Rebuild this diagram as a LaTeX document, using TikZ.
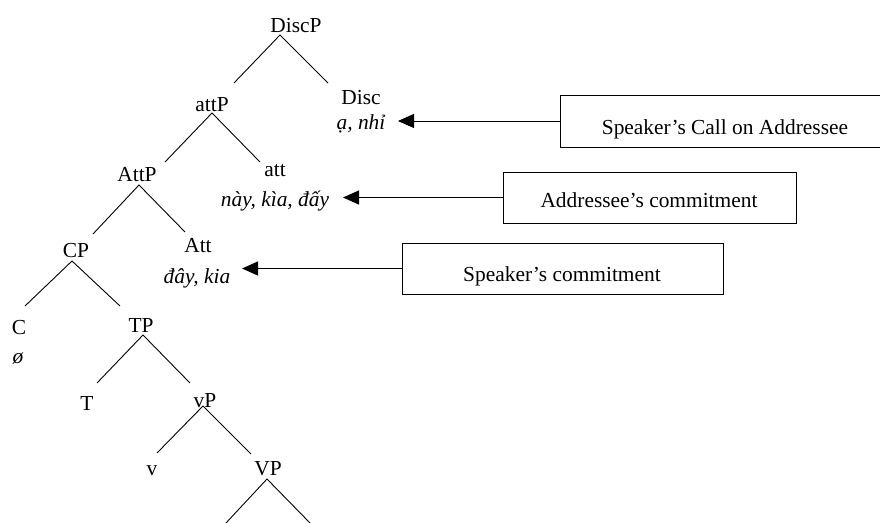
\documentclass[tikz,border=0pt]{standalone}
\usepackage{fontspec}
\setmainfont{Liberation Serif}
\usetikzlibrary{arrows.meta}
\begin{document}
\begin{tikzpicture}[x=1bp,y=-1bp,
  lbl/.style={anchor=base,inner sep=0pt,font=\fontsize{21.4bp}{26bp}\selectfont},
  itlbl/.style={lbl,font=\fontsize{21.4bp}{26bp}\selectfont\itshape},
  branch/.style={line width=0.9bp},
  boxnode/.style={draw,line width=0.9bp,inner sep=0pt},
  arr/.style={line width=0.9bp,-{Triangle[length=16bp,width=14bp]}}]
\useasboundingbox (0,0) rectangle (880,523);
\fill[white] (0,0) rectangle (880,523);
% labels
\node[lbl] (discp) at (296,33) {DiscP};
\node[lbl] (attp) at (212,112) {attP};
\node[lbl] (disc) at (361,105) {Disc};
\node[itlbl] (discw) at (361,130) {ạ, nhỉ};
\node[lbl] (attP2) at (137,182) {AttP};
\node[lbl] (att) at (275,177) {att};
\node[itlbl] (attw) at (275,207) {này, kìa, đấy};
\node[lbl] (Att) at (198,253) {Att};
\node[itlbl] (Attw) at (197,284) {đây, kia};
\node[lbl] (cp) at (76,258) {CP};
\node[lbl] (c) at (19,335) {C};
\node[itlbl] (cw) at (18,363) {ø};
\node[lbl] (tp) at (141,333) {TP};
\node[lbl] (t) at (87,410) {T};
\node[lbl] (vp) at (205,407) {vP};
\node[lbl] (v) at (152,475) {v};
\node[lbl] (VP) at (268,475) {VP};
% branch points
\coordinate (a0) at (280,35);  \coordinate (a0l) at (234,83);  \coordinate (a0r) at (328,83);
\coordinate (a1) at (212,113); \coordinate (a1l) at (165,162); \coordinate (a1r) at (260,162);
\coordinate (a2) at (139,185); \coordinate (a2l) at (93,234);  \coordinate (a2r) at (185,232);
\coordinate (a3) at (72,261);  \coordinate (a3l) at (25,306);  \coordinate (a3r) at (120,306);
\coordinate (a4) at (143,335); \coordinate (a4l) at (97,383);  \coordinate (a4r) at (190,383);
\coordinate (a5) at (203,406); \coordinate (a5l) at (157,453); \coordinate (a5r) at (251,454);
\coordinate (a6) at (267,479); \coordinate (a6l) at (226,523); \coordinate (a6r) at (310,523);
\foreach \n in {a0,a1,a2,a3,a4,a5,a6}{
  \draw[branch] (\n l) -- (\n) -- (\n r);
}
% boxes
\node[boxnode,minimum width=330bp,minimum height=52bp] (b1) at (725,121) {};
\node[lbl] (b1t) at (725,135) {Speaker’s Call on Addressee};
\node[boxnode,minimum width=293bp,minimum height=51bp] (b2) at (649.5,197.5) {};
\node[lbl] (b2t) at (649,208) {Addressee’s commitment};
\node[boxnode,minimum width=321bp,minimum height=51bp] (b3) at (562.5,268.5) {};
\node[lbl] (b3t) at (562,282) {Speaker’s commitment};
% arrows
\coordinate (t1) at (398,121);
\coordinate (t2) at (343,197.5);
\coordinate (t3) at (242,268.5);
\draw[arr] (b1.west) -- (t1);
\draw[arr] (b2.west) -- (t2);
\draw[arr] (b3.west) -- (t3);
\end{tikzpicture}
\end{document}
